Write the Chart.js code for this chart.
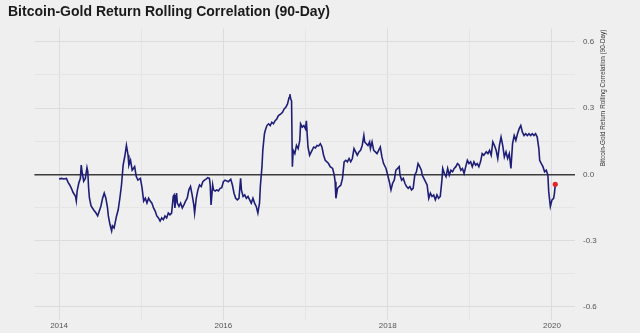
<!DOCTYPE html>
<html>
<head>
<meta charset="utf-8">
<script src="https://cdn.jsdelivr.net/npm/chart.js@4/dist/chart.umd.min.js"></script>
<style>
  html, body { margin: 0; padding: 0; background: #efefef; }
  canvas { display: block; }
</style>
</head>
<body>
<canvas id="corrchart" width="640" height="333"></canvas>
<script>
// 90-day rolling correlation of bitcoin and gold daily returns (decimal years)
const years = [
  2014.00, 2014.03, 2014.06, 2014.09, 2014.11, 2014.13, 2014.15, 2014.17, 2014.20, 2014.21,
  2014.22, 2014.24, 2014.26, 2014.27, 2014.28, 2014.30, 2014.32, 2014.34, 2014.35, 2014.36,
  2014.37, 2014.39, 2014.42, 2014.45, 2014.47, 2014.49, 2014.51, 2014.53, 2014.55, 2014.57,
  2014.59, 2014.60, 2014.62, 2014.64, 2014.65, 2014.67, 2014.70, 2014.72, 2014.74, 2014.76,
  2014.78, 2014.80, 2014.82, 2014.84, 2014.85, 2014.87, 2014.89, 2014.92, 2014.94, 2014.96,
  2014.99, 2015.01, 2015.03, 2015.05, 2015.07, 2015.09, 2015.11, 2015.13, 2015.15, 2015.17,
  2015.19, 2015.21, 2015.23, 2015.25, 2015.27, 2015.29, 2015.31, 2015.33, 2015.35, 2015.37,
  2015.39, 2015.40, 2015.41, 2015.43, 2015.44, 2015.46, 2015.48, 2015.50, 2015.52, 2015.54,
  2015.56, 2015.58, 2015.60, 2015.62, 2015.64, 2015.65, 2015.67, 2015.69, 2015.71, 2015.73,
  2015.75, 2015.77, 2015.79, 2015.81, 2015.83, 2015.84, 2015.85, 2015.87, 2015.88, 2015.90,
  2015.92, 2015.94, 2015.96, 2015.98, 2016.00, 2016.02, 2016.06, 2016.09, 2016.11, 2016.13,
  2016.15, 2016.17, 2016.19, 2016.21, 2016.22, 2016.24, 2016.26, 2016.28, 2016.30, 2016.32,
  2016.34, 2016.36, 2016.38, 2016.40, 2016.42, 2016.43, 2016.44, 2016.45, 2016.47, 2016.48,
  2016.50, 2016.51, 2016.53, 2016.55, 2016.57, 2016.59, 2016.61, 2016.63, 2016.65, 2016.67,
  2016.70, 2016.72, 2016.74, 2016.76, 2016.78, 2016.80, 2016.81, 2016.82, 2016.83, 2016.84,
  2016.85, 2016.87, 2016.89, 2016.91, 2016.93, 2016.94, 2016.96, 2016.98, 2017.00, 2017.01,
  2017.03, 2017.05, 2017.07, 2017.10, 2017.12, 2017.14, 2017.16, 2017.18, 2017.20, 2017.22,
  2017.24, 2017.26, 2017.28, 2017.30, 2017.33, 2017.35, 2017.36, 2017.37, 2017.39, 2017.41,
  2017.43, 2017.45, 2017.47, 2017.49, 2017.51, 2017.53, 2017.55, 2017.57, 2017.59, 2017.61,
  2017.63, 2017.65, 2017.67, 2017.69, 2017.71, 2017.72, 2017.74, 2017.76, 2017.78, 2017.79,
  2017.81, 2017.83, 2017.85, 2017.87, 2017.89, 2017.91, 2017.93, 2017.95, 2017.98, 2018.00,
  2018.02, 2018.04, 2018.06, 2018.08, 2018.10, 2018.12, 2018.14, 2018.15, 2018.17, 2018.19,
  2018.21, 2018.23, 2018.25, 2018.27, 2018.29, 2018.31, 2018.33, 2018.35, 2018.37, 2018.39,
  2018.41, 2018.42, 2018.44, 2018.46, 2018.48, 2018.50, 2018.52, 2018.54, 2018.56, 2018.58,
  2018.60, 2018.62, 2018.64, 2018.66, 2018.67, 2018.69, 2018.71, 2018.73, 2018.75, 2018.77,
  2018.79, 2018.81, 2018.83, 2018.85, 2018.87, 2018.89, 2018.91, 2018.93, 2018.95, 2018.97,
  2018.99, 2019.01, 2019.03, 2019.05, 2019.07, 2019.09, 2019.11, 2019.13, 2019.15, 2019.17,
  2019.20, 2019.22, 2019.24, 2019.26, 2019.28, 2019.30, 2019.32, 2019.34, 2019.36, 2019.38,
  2019.40, 2019.42, 2019.44, 2019.46, 2019.48, 2019.50, 2019.52, 2019.54, 2019.56, 2019.58,
  2019.60, 2019.62, 2019.64, 2019.66, 2019.68, 2019.70, 2019.72, 2019.74, 2019.76, 2019.78,
  2019.80, 2019.82, 2019.84, 2019.85, 2019.87, 2019.89, 2019.91, 2019.93, 2019.95, 2019.96,
  2019.98, 2020.00, 2020.02, 2020.03, 2020.04
];
const corr = [
  -0.021, -0.018, -0.021, -0.018, -0.036, -0.048, -0.063, -0.081, -0.099, -0.120,
  -0.076, -0.040, -0.018, 0.042, 0.013, -0.031, -0.018, 0.031, 0.013, -0.063,
  -0.108, -0.143, -0.160, -0.175, -0.188, -0.166, -0.143, -0.108, -0.085, -0.108,
  -0.152, -0.188, -0.227, -0.256, -0.233, -0.242, -0.188, -0.160, -0.108, -0.048,
  0.042, 0.081, 0.131, 0.087, 0.042, 0.064, 0.019, 0.035, -0.010, -0.026,
  -0.018, -0.060, -0.121, -0.108, -0.130, -0.108, -0.121, -0.130, -0.152, -0.166,
  -0.188, -0.197, -0.211, -0.197, -0.205, -0.188, -0.197, -0.175, -0.183, -0.175,
  -0.099, -0.093, -0.152, -0.085, -0.130, -0.145, -0.130, -0.152, -0.138, -0.121,
  -0.108, -0.070, -0.055, -0.093, -0.138, -0.175, -0.108, -0.070, -0.048, -0.055,
  -0.033, -0.026, -0.021, -0.015, -0.018, -0.048, -0.138, -0.048, -0.070, -0.075,
  -0.070, -0.075, -0.063, -0.060, -0.033, -0.026, -0.033, -0.022, -0.048, -0.085,
  -0.108, -0.115, -0.108, -0.018, -0.070, -0.100, -0.093, -0.108, -0.100, -0.115,
  -0.130, -0.108, -0.130, -0.145, -0.175, -0.152, -0.130, -0.055, 0.035, 0.109,
  0.184, 0.199, 0.221, 0.229, 0.221, 0.236, 0.229, 0.243, 0.251, 0.266,
  0.274, 0.281, 0.296, 0.304, 0.318, 0.348, 0.363, 0.341, 0.333, 0.035,
  0.109, 0.094, 0.131, 0.117, 0.154, 0.229, 0.214, 0.221, 0.206, 0.243,
  0.124, 0.087, 0.102, 0.124, 0.120, 0.131, 0.129, 0.139, 0.124, 0.087,
  0.064, 0.057, 0.049, 0.035, 0.027, -0.003, -0.033, -0.108, -0.063, -0.055,
  -0.048, -0.018, 0.057, 0.064, 0.057, 0.072, 0.057, 0.072, 0.117, 0.102,
  0.087, 0.102, 0.109, 0.131, 0.176, 0.147, 0.139, 0.131, 0.147, 0.117,
  0.147, 0.109, 0.102, 0.094, 0.109, 0.124, 0.079, 0.049, 0.027, -0.003,
  -0.033, -0.070, -0.040, -0.026, 0.019, 0.027, 0.035, -0.003, -0.026, -0.018,
  -0.040, -0.055, -0.063, -0.055, -0.070, -0.063, -0.003, 0.012, 0.049, 0.035,
  0.019, -0.003, -0.018, -0.033, -0.048, -0.108, -0.085, -0.100, -0.093, -0.115,
  -0.093, -0.108, -0.100, -0.026, 0.027, 0.004, -0.010, 0.027, -0.003, 0.019,
  0.012, 0.027, 0.035, 0.049, 0.042, 0.019, 0.027, 0.004, 0.035, 0.064,
  0.049, 0.057, 0.035, 0.057, 0.042, 0.049, 0.035, 0.057, 0.094, 0.087,
  0.102, 0.094, 0.109, 0.087, 0.147, 0.131, 0.109, 0.072, 0.131, 0.169,
  0.131, 0.079, 0.102, 0.072, 0.094, 0.027, 0.139, 0.176, 0.154, 0.184,
  0.206, 0.221, 0.191, 0.176, 0.184, 0.176, 0.184, 0.176, 0.184, 0.176,
  0.184, 0.169, 0.117, 0.064, 0.049, 0.035, 0.012, 0.019, -0.003, -0.078,
  -0.145, -0.115, -0.108, -0.085, -0.045
];

// axis ticks: gridlines every year / every 0.15, labels on every other one
const yearTicks = [2014, 2015, 2016, 2017, 2018, 2019, 2020];
const yearLabels = [2014, 2016, 2018, 2020];
const corrTicks = [-0.6, -0.45, -0.3, -0.15, 0, 0.15, 0.3, 0.45, 0.6];
const corrLabels = [-0.6, -0.3, 0, 0.3, 0.6];

const titleText = "Bitcoin-Gold Return Rolling Correlation (90-Day)";
const axisText = "Bitcoin-Gold Return Rolling Correlation (90-Day)";

const points = years.map((x, i) => ({ x: x, y: corr[i] }));
const last = points.length - 1;

// rotated caption next to the right-hand axis
const axisCaption = {
  id: "axisCaption",
  afterDraw(chart) {
    const ctx = chart.ctx;
    ctx.save();
    ctx.translate(603, 98);
    ctx.rotate(-Math.PI / 2);
    ctx.fillStyle = "#333333";
    ctx.font = '6.4px "Liberation Sans", sans-serif';
    ctx.textAlign = "center";
    ctx.textBaseline = "middle";
    ctx.fillText(axisText, 0, 0);
    ctx.restore();
  },
};

new Chart(document.getElementById("corrchart"), {
  type: "line",
  data: {
    datasets: [
      {
        data: points,
        xAxisID: "x",
        yAxisID: "y",
        borderColor: "#1e1e78",
        borderWidth: 1.6,
        tension: 0,
        pointRadius: (c) => (c.dataIndex === last ? 2.6 : 0),
        pointBackgroundColor: "#e3262a",
        pointBorderWidth: 0,
      },
    ],
  },
  options: {
    responsive: false,
    animation: false,
    layout: { padding: { left: 8, right: 0, top: 0, bottom: 0 } },
    plugins: {
      legend: { display: false },
      tooltip: { enabled: false },
      title: {
        display: true,
        text: titleText,
        align: "start",
        color: "#1a1a1a",
        font: { family: '"Liberation Sans", sans-serif', size: 14, weight: "bold" },
        padding: { top: 4, bottom: 7.8 },
      },
    },
    scales: {
      x: {
        type: "linear",
        min: 2013.7,
        max: 2020.28,
        afterBuildTicks: (s) => { s.ticks = yearTicks.map((v) => ({ value: v })); },
        afterFit: (s) => { s.height = 10.6; },
        border: { display: false },
        grid: {
          drawTicks: false,
          color: (c) => (yearLabels.includes(c.tick.value) ? "#dcdcdc" : "#e5e5e5"),
          lineWidth: 1,
        },
        ticks: {
          padding: 1,
          maxRotation: 0,
          autoSkip: false,
          color: "#555555",
          font: { family: '"Liberation Sans", sans-serif', size: 8 },
          callback: (v) => (yearLabels.includes(v) ? String(v) : ""),
        },
      },
      y: {
        position: "right",
        min: -0.66,
        max: 0.66,
        afterBuildTicks: (s) => { s.ticks = corrTicks.map((v) => ({ value: v })); },
        afterFit: (s) => { s.width = 65; },
        border: { display: false },
        grid: {
          drawTicks: false,
          color: (c) => {
            if (c.tick.value === 0) return "#3c3c3c";
            return corrLabels.includes(c.tick.value) ? "#dcdcdc" : "#e5e5e5";
          },
          lineWidth: (c) => (c.tick.value === 0 ? 1.5 : 1),
        },
        ticks: {
          padding: 8,
          autoSkip: false,
          color: "#555555",
          font: { family: '"Liberation Sans", sans-serif', size: 8 },
          callback: (v) => (corrLabels.includes(v) ? v.toFixed(1) : ""),
        },
      },
      // empty left margin so the panel starts in from the title
      gutter: {
        position: "left",
        display: true,
        afterFit: (s) => { s.width = 26.4; },
        border: { display: false },
        grid: { display: false },
        ticks: { display: false },
      },
    },
  },
  plugins: [axisCaption],
});
</script>
</body>
</html>
